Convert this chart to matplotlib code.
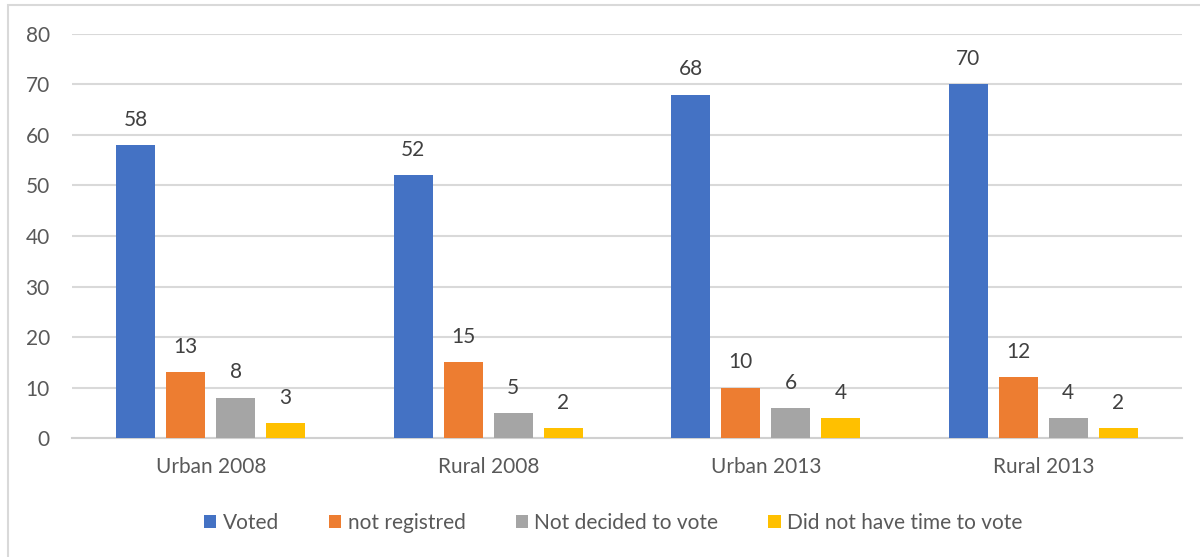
import numpy as np
import matplotlib.pyplot as plt
from matplotlib.patches import Rectangle

plt.rcParams['font.family'] = ['Lato', 'DejaVu Sans']

groups = ['Urban 2008', 'Rural 2008', 'Urban 2013', 'Rural 2013']
series = ['Voted', 'not registred', 'Not decided to vote', 'Did not have time to vote']
voted = [58, 52, 68, 70]
not_registred = [13, 15, 10, 12]
not_decided = [8, 5, 6, 4]
no_time = [3, 2, 4, 2]
colors = ['#4472c4', '#ed7d31', '#a5a5a5', '#ffc000']

text_col = '#595959'

fig = plt.figure(figsize=(12, 5.57), dpi=100)
ax = fig.add_axes([0.06, 0.2136, 0.925, 0.7254])

# chart frame
fig.patches.append(Rectangle((8 / 1200, -0.05), 1.2, 1 - 5 / 557 + 0.05,
                             transform=fig.transFigure, fill=False,
                             edgecolor='#d9d9d9', linewidth=1.5))

x = np.arange(len(groups))
width = 0.14
step = 0.18
for i, (vals, name, c) in enumerate(zip([voted, not_registred, not_decided, no_time], series, colors)):
    pos = x + (i - 1.5) * step
    bars = ax.bar(pos, vals, width, color=c, label=name, zorder=3)
    for b, v in zip(bars, vals):
        ax.text(b.get_x() + b.get_width() / 2, v + 3.0, str(v), ha='center', va='bottom',
                fontsize=15, color='#404040')

ax.set_xlim(-0.5, 3.5)
ax.set_ylim(0, 80)
ax.set_yticks(range(0, 81, 10))
ax.set_xticks(x)
ax.set_xticklabels(groups)
ax.grid(axis='y', color='#d9d9d9', linewidth=1.5, zorder=0)
for s in ['top', 'right', 'left']:
    ax.spines[s].set_visible(False)
ax.spines['bottom'].set_color('#d0d0d0')
ax.spines['bottom'].set_linewidth(1.5)
ax.tick_params(axis='both', length=0, labelsize=15, labelcolor=text_col)
ax.tick_params(axis='x', pad=14)
ax.tick_params(axis='y', pad=16)

leg = fig.legend(loc='center', bbox_to_anchor=(0.511, 1 - 523 / 557), ncol=4, frameon=False,
                 fontsize=15, handlelength=0.6, handleheight=0.6, handletextpad=0.3,
                 columnspacing=2.4, labelcolor=text_col)

plt.savefig('out.png', dpi=100)
